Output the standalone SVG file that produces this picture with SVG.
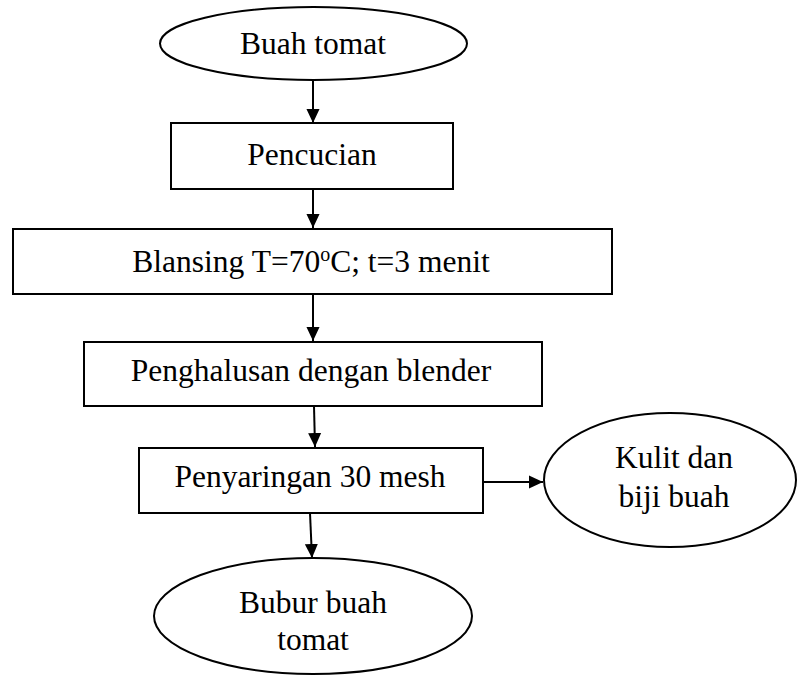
<svg xmlns="http://www.w3.org/2000/svg" width="797" height="677" viewBox="0 0 797 677">
<style>
.shape{fill:#fff;stroke:#000;stroke-width:2}
.lbl{font-family:"Liberation Serif","Times New Roman",serif;font-size:31.5px;fill:#000;text-anchor:middle}
.conn{stroke:#000;stroke-width:2;fill:none}
</style>
<defs>
<marker id="ah" markerWidth="14" markerHeight="14" refX="15" refY="7" viewBox="0 0 15 14" markerUnits="userSpaceOnUse" orient="auto">
<path d="M0,0 L15,7 L0,14 Z" fill="#000"/>
</marker>
</defs>
<rect width="797" height="677" fill="#fff"/>
<g id="connectors">
<line class="conn" x1="313" y1="80" x2="313" y2="123" marker-end="url(#ah)"/>
<line class="conn" x1="313" y1="189" x2="313" y2="228" marker-end="url(#ah)"/>
<line class="conn" x1="313" y1="294" x2="313" y2="341" marker-end="url(#ah)"/>
<line class="conn" x1="314" y1="406" x2="315" y2="447" marker-end="url(#ah)"/>
<line class="conn" x1="483" y1="482" x2="543" y2="482" marker-end="url(#ah)"/>
<line class="conn" x1="310" y1="513" x2="312" y2="558" marker-end="url(#ah)"/>
</g>
<g id="buah-tomat">
<ellipse class="shape" cx="313.5" cy="43.5" rx="153.5" ry="36.5"/>
<text class="lbl" x="313" y="54">Buah tomat</text>
</g>
<g id="pencucian">
<rect class="shape" x="171" y="123" width="282" height="66"/>
<text class="lbl" x="312" y="165">Pencucian</text>
</g>
<g id="blansing">
<rect class="shape" x="13" y="229" width="599" height="65"/>
<text class="lbl" x="311" y="272">Blansing T=70<tspan font-size="20" dy="-11">o</tspan><tspan dy="11">C; t=3 menit</tspan></text>
</g>
<g id="penghalusan">
<rect class="shape" x="84" y="342" width="458" height="64"/>
<text class="lbl" x="311" y="381">Penghalusan dengan blender</text>
</g>
<g id="penyaringan">
<rect class="shape" x="139" y="448" width="344" height="65"/>
<text class="lbl" x="310" y="487">Penyaringan 30 mesh</text>
</g>
<g id="kulit-biji">
<ellipse class="shape" cx="670" cy="480" rx="126" ry="67"/>
<text class="lbl" x="674" y="468">Kulit dan</text>
<text class="lbl" x="674" y="507">biji buah</text>
</g>
<g id="bubur">
<ellipse class="shape" cx="313" cy="616" rx="159" ry="58"/>
<text class="lbl" x="313" y="613">Bubur buah</text>
<text class="lbl" x="313" y="650">tomat</text>
</g>
</svg>
